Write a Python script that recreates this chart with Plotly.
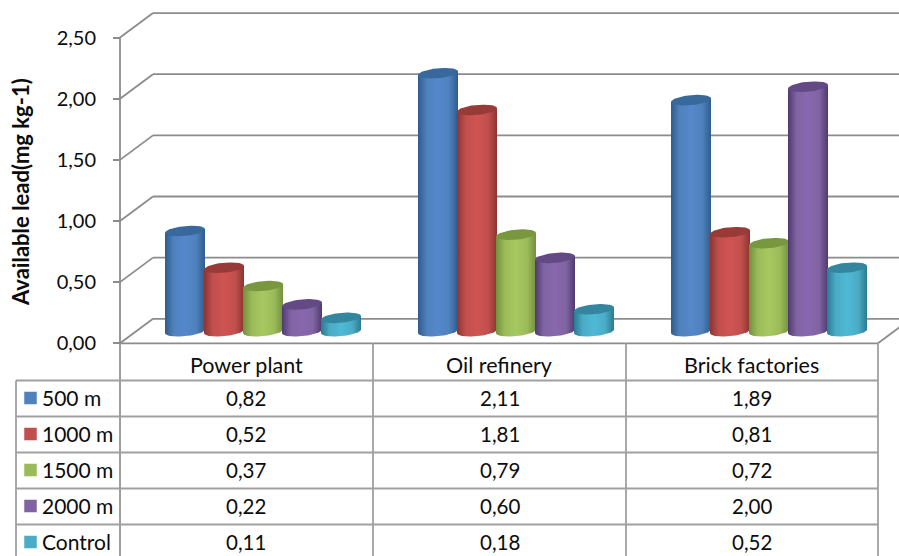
import numpy as np
import plotly.graph_objects as go

categories = ["Power plant", "Oil refinery", "Brick factories"]
series_names = ["500 m", "1000 m", "1500 m", "2000 m", "Control"]
v_500 = [0.82, 2.11, 1.89]
v_1000 = [0.52, 1.81, 0.81]
v_1500 = [0.37, 0.79, 0.72]
v_2000 = [0.22, 0.60, 2.00]
v_control = [0.11, 0.18, 0.52]
series_values = [v_500, v_1000, v_1500, v_2000, v_control]
y_ticks = [0, 0.5, 1.0, 1.5, 2.0, 2.5]

# colours: key, bright, edge dark, top cap
key_col = ["#4f81bd", "#c0504d", "#9bbb59", "#8064a2", "#4bacc6"]
mid_col = ["#5588cb", "#cf5452", "#a6c860", "#8967ae", "#4fb9d6"]
edge_col = ["#2f5c8c", "#8c3432", "#73903c", "#4f3a70", "#2b7a90"]
cap_col = ["#38689c", "#983a38", "#78973f", "#634a85", "#33869e"]
line_col = "#a0a0a0"
grid_col = "#8c8c8c"
text_col = "#0c0c0c"
FONT = "Lato"

W, H = 899, 556
Y0_PX, PX_PER_UNIT = 343.3, 122.3      # front axis zero and scale
AXIS_X, DEPTH_X, DEPTH_Y = 120.0, 33.0, 24.5
GROUP0_PX, GROUP_STEP = 263.0, 253.0
BAR_STEP, RX, RY, TILT = 39.0, 20.0, 5.0, 1.8
BAR_DEPTH_PX = 12.0
RIGHT_X = 878.0
COLS = [120.0, 373.0, 626.0, 878.0]
ROWS = [380.5, 416.5, 452.5, 488.5, 524.5]
TABLE_LEFT = 16.0


def xd(px):
    return (px - GROUP0_PX) / GROUP_STEP


def yd(py):
    return (Y0_PX - py) / PX_PER_UNIT


fig = go.Figure()

t_low = np.linspace(np.pi, 2 * np.pi, 40)
t_all = np.linspace(0, 2 * np.pi, 80)
dy_unit = 1.0 / PX_PER_UNIT
dep = BAR_DEPTH_PX * dy_unit
for g, cat in enumerate(categories):
    for s, name in enumerate(series_names):
        val = series_values[s][g]
        cx_px = GROUP0_PX + g * GROUP_STEP + (s - 2) * BAR_STEP
        colorscale = [[0, edge_col[s]], [0.22, key_col[s]], [0.5, mid_col[s]],
                      [0.78, key_col[s]], [1, edge_col[s]]]
        top = val + dep
        bx = xd(cx_px + RX * np.cos(t_low))
        by = dep + (TILT * np.cos(t_low) + RY * np.sin(t_low)) * dy_unit
        xs = np.concatenate([bx, [xd(cx_px + RX), xd(cx_px - RX)]])
        ys = np.concatenate([by, [top + TILT * dy_unit, top - TILT * dy_unit]])
        fig.add_trace(go.Scatter(
            x=xs, y=ys, mode="lines", fill="toself", line=dict(width=0),
            fillgradient=dict(type="horizontal", colorscale=colorscale),
            name=name, hoverinfo="skip", showlegend=False))
        fig.add_trace(go.Scatter(
            x=xd(cx_px + RX * np.cos(t_all)),
            y=top + (TILT * np.cos(t_all) + RY * np.sin(t_all)) * dy_unit,
            mode="lines", fill="toself", fillcolor=cap_col[s], line=dict(width=0),
            name=name, hoverinfo="skip", showlegend=False))

shapes = []
annotations = []


def line(x0, y0, x1, y1, col=line_col, w=1.8):
    shapes.append(dict(type="line", xref="paper", yref="paper",
                       x0=x0 / W, x1=x1 / W, y0=1 - y0 / H, y1=1 - y1 / H,
                       line=dict(color=col, width=w), layer="below"))


def text(x, y, s, size=21, anchor="center"):
    annotations.append(dict(xref="paper", yref="paper", x=x / W, y=1 - y / H, text=s,
                            showarrow=False, xanchor=anchor, yanchor="middle",
                            font=dict(family=FONT, size=size, color=text_col)))


# back wall grid and side wall diagonals
for tv in y_ticks:
    front = Y0_PX - tv * PX_PER_UNIT
    back = front - DEPTH_Y
    line(AXIS_X + DEPTH_X, back, W, back, grid_col)
    line(AXIS_X, front, AXIS_X + DEPTH_X, back, grid_col)
# walls and floor
line(AXIS_X, Y0_PX - y_ticks[-1] * PX_PER_UNIT, AXIS_X, H, grid_col)
line(AXIS_X, Y0_PX, RIGHT_X, Y0_PX, grid_col)
line(RIGHT_X, Y0_PX, RIGHT_X + DEPTH_X, Y0_PX - DEPTH_Y, grid_col)

# data table
for c in COLS:
    line(c, Y0_PX, c, H)
line(TABLE_LEFT, ROWS[0], TABLE_LEFT, H)
for r in ROWS:
    line(TABLE_LEFT, r, COLS[-1], r)

for i, cat in enumerate(categories):
    cx = (COLS[i] + COLS[i + 1]) / 2
    text(cx - 0.5, (Y0_PX + ROWS[0]) / 2 + 3.5, cat, size=21.5)
    for s in range(len(series_names)):
        text(cx, ROWS[s] + 17, f"{series_values[s][i]:.2f}".replace(".", ","), size=20.5)
for s, name in enumerate(series_names):
    ym = ROWS[s] + 17.5
    shapes.append(dict(type="rect", xref="paper", yref="paper",
                       x0=24 / W, x1=37 / W, y0=1 - (ym - 6.5) / H, y1=1 - (ym + 6.5) / H,
                       fillcolor=key_col[s], line=dict(color="#ffffff", width=0.5)))
    text(40, ym - 0.5, name, size=21, anchor="left")

annotations.append(dict(xref="paper", yref="paper", x=20 / W, y=1 - 192 / H,
                        text="<b>Available lead(mg kg-1)</b>", textangle=-90, showarrow=False,
                        xanchor="center", yanchor="middle",
                        font=dict(family=FONT, size=22, color=text_col)))

fig.update_layout(
    width=W, height=H, margin=dict(l=0, r=0, t=0, b=0, pad=0),
    paper_bgcolor="white", plot_bgcolor="white", showlegend=False,
    separators=", ", shapes=shapes, annotations=annotations,
    xaxis=dict(visible=False, range=[xd(0), xd(W)], domain=[0, 1], fixedrange=True),
    yaxis=dict(range=[yd(H), yd(0)], domain=[0, 1], anchor="free", position=AXIS_X / W,
               showgrid=False, zeroline=False, showline=False,
               tickvals=y_ticks, tickformat=".2f", ticks="outside", ticklen=7,
               tickcolor=grid_col, tickwidth=1.8, ticklabelstandoff=13,
               tickfont=dict(family=FONT, size=20, color=text_col), fixedrange=True),
)

fig.write_html("out.html", config=dict(displayModeBar=False),
               post_script="document.body.style.margin='0';document.documentElement.style.overflow='hidden';")
